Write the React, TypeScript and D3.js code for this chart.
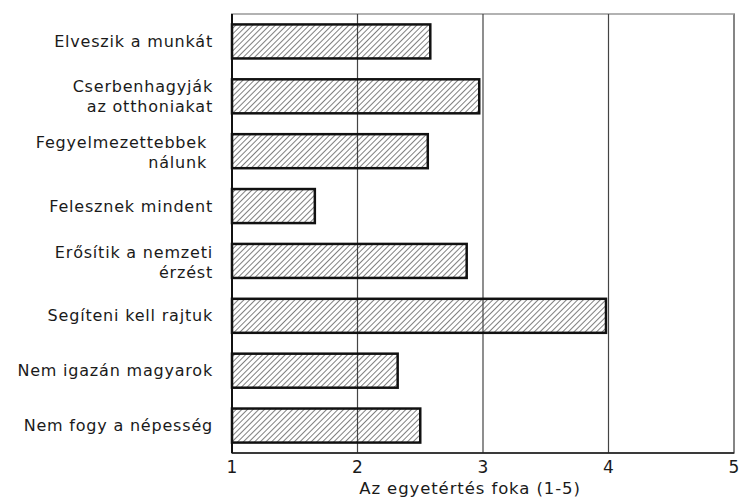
import React from 'react';
import * as d3 from 'd3';

// data
const categories: string[][] = [
    ['Elveszik a munkát'],
    ['Cserbenhagyják', 'az otthoniakat'],
    ['Fegyelmezettebbek', 'nálunk'],
    ['Felesznek mindent'],
    ['Erősítik a nemzeti', 'érzést'],
    ['Segíteni kell rajtuk'],
    ['Nem igazán magyarok'],
    ['Nem fogy a népesség'],
];
const values: number[] = [2.58, 2.97, 2.56, 1.66, 2.87, 3.98, 2.32, 2.5];
const xTicks: number[] = [1, 2, 3, 4, 5];
const xTitle = 'Az egyetértés foka (1-5)';

// layout
const W = 740, H = 498;
const left = 232, right = 734, top = 14, bottom = 453;
const font = '"DejaVu Sans", sans-serif';

export default function App() {
    const xScale = d3.scaleLinear().domain([1, 5]).range([left, right]);
    const yScale = d3.scaleBand<number>()
        .domain(d3.range(categories.length))
        .range([top, bottom])
        .paddingInner(0.38)
        .paddingOuter(0.19);
    const bw = yScale.bandwidth();

    return (
        <div style={{position: 'absolute', left: 0, top: 0, width: W, height: H, overflow: 'hidden'}}>
            <svg width={W} height={H} viewBox={`0 0 ${W} ${H}`} style={{display: 'block', background: '#fff'}}>
                <defs>
                    <pattern id="hatch" patternUnits="userSpaceOnUse" width={4} height={4} patternTransform="rotate(45)">
                        <line x1={0} y1={0} x2={0} y2={4} stroke="#3a3a3a" strokeWidth={1.3} />
                    </pattern>
                </defs>
                {/* frame + grid */}
                <rect x={left} y={top} width={right - left} height={bottom - top} fill="none" stroke="#444" strokeWidth={1.3} />
                <line x1={left} x2={right} y1={top} y2={top} stroke="#fff" strokeWidth={1.4} opacity={0.5} />
                {xTicks.slice(1, -1).map((t) => (
                    <line key={t} x1={xScale(t)} x2={xScale(t)} y1={top} y2={bottom} stroke="#444" strokeWidth={1.2} />
                ))}
                <line x1={left} x2={right} y1={bottom} y2={bottom} stroke="#222" strokeWidth={1.5} />
                {/* bars */}
                {values.map((v, i) => (
                    <rect key={i} x={xScale(1)} y={yScale(i)} width={xScale(v) - xScale(1)} height={bw}
                          fill="url(#hatch)" stroke="#111" strokeWidth={2.5} />
                ))}
                <line x1={left} x2={left} y1={top} y2={bottom} stroke="#111" strokeWidth={2} />
                {/* category labels */}
                {categories.map((lines, i) => {
                    const cy = (yScale(i) as number) + bw / 2;
                    const off = i === 2 || i === 4 ? 1 : 0;
                    return (
                        <text key={i} textAnchor="end" fontFamily={font} fontSize={16} letterSpacing={0.8} fill="#1a1a1a">
                            {lines.map((ln, j) => (
                                <tspan key={j} x={i === 2 ? 207 : 213}
                                       y={cy + off + (j - (lines.length - 1) / 2) * 20}
                                       dy="0.35em">{ln}</tspan>
                            ))}
                        </text>
                    );
                })}
                {/* x ticks */}
                {xTicks.map((t) => (
                    <text key={t} x={xScale(t)} y={467} dy="0.35em" textAnchor="middle"
                          fontFamily={font} fontSize={17} fill="#1a1a1a">{t}</text>
                ))}
                <text x={470} y={488} dy="0.35em" textAnchor="middle" fontFamily={font} fontSize={16.5}
                      letterSpacing={0.9} fill="#1a1a1a">
                    {xTitle}
                </text>
            </svg>
        </div>
    );
}
